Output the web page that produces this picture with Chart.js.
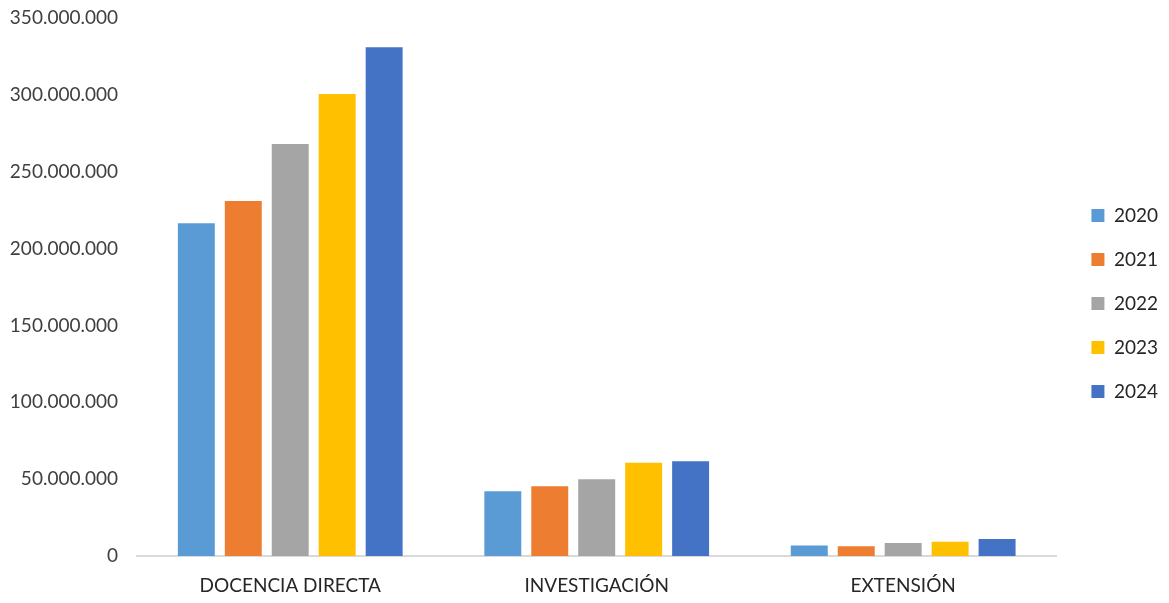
<!DOCTYPE html>
<html>
<head>
<meta charset="utf-8">
<script src="https://cdn.jsdelivr.net/npm/chart.js@4/dist/chart.umd.min.js"></script>
<style>
  html, body { margin: 0; padding: 0; background: #ffffff; }
  #wrap { width: 1169px; height: 603px; position: relative; }
</style>
</head>
<body>
<div id="wrap"><canvas id="c"></canvas></div>
<script>
const categories = ["DOCENCIA DIRECTA", "INVESTIGACIÓN", "EXTENSIÓN"];
const years = ["2020", "2021", "2022", "2023", "2024"];
const values2020 = [216500000, 42100000, 6900000];
const values2021 = [231000000, 45300000, 6300000];
const values2022 = [268000000, 49900000, 8500000];
const values2023 = [300500000, 60700000, 9300000];
const values2024 = [331000000, 61600000, 11100000];
const yTicksMax = 350000000;
const yTickStep = 50000000;

const seriesValues = [values2020, values2021, values2022, values2023, values2024];
const colors = ["#5B9BD5", "#ED7D31", "#A5A5A5", "#FFC000", "#4472C4"];

function fmt(v) {
  return String(Math.round(v)).replace(/\B(?=(\d{3})+(?!\d))/g, ".");
}

const FONT = "Lato, 'Open Sans', 'Liberation Sans', sans-serif";

const legendShift = {
  id: "legendShift",
  afterLayout(chart) {
    if (chart.legend) {
      chart.legend.top -= 7;
      chart.legend.bottom -= 7;
    }
  }
};

new Chart(document.getElementById("c"), {
  type: "bar",
  data: {
    labels: categories,
    datasets: years.map((y, i) => ({
      label: y,
      data: seriesValues[i],
      backgroundColor: colors[i],
      borderWidth: 0,
      categoryPercentage: 0.766,
      barPercentage: 0.787
    }))
  },
  plugins: [legendShift],
  options: {
    responsive: true,
    maintainAspectRatio: false,
    animation: false,
    layout: { padding: { top: 18, right: 1, bottom: 0, left: 0 } },
    plugins: {
      tooltip: { enabled: false },
      legend: {
        position: "right",
        align: "center",
        labels: {
          boxWidth: 13,
          boxHeight: 13,
          padding: 25,
          color: "#262626",
          font: { family: FONT, size: 19 }
        }
      }
    },
    scales: {
      x: {
        grid: { display: false, drawTicks: false },
        border: { display: true, color: "#d9d9d9", width: 2 },
        ticks: {
          color: "#262626",
          padding: 18,
          font: { family: FONT, size: 19 }
        },
        afterFit: (s) => { s.height = 47; }
      },
      y: {
        min: 0,
        max: yTicksMax,
        grid: { display: false, drawTicks: true, tickLength: 19 },
        border: { display: false },
        ticks: {
          stepSize: yTickStep,
          color: "#404040",
          padding: 0,
          font: { family: FONT, size: 19 },
          callback: (v) => fmt(v)
        },
        afterFit: (s) => { s.width = 137; }
      },
      yR: {
        type: "linear",
        position: "right",
        display: true,
        grid: { display: false, drawTicks: false },
        border: { display: false },
        ticks: { display: false, padding: 0 },
        afterFit: (s) => { s.width = 10; }
      }
    }
  }
});
</script>
</body>
</html>
